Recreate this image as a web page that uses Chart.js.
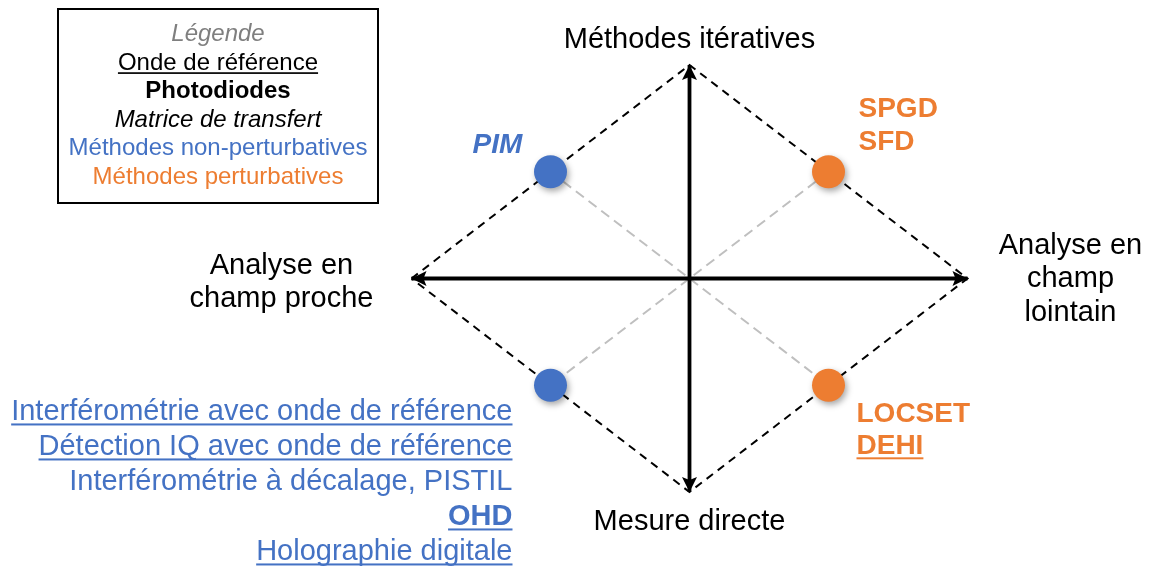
<!DOCTYPE html>
<html><head><meta charset="utf-8">
<script src="https://cdn.jsdelivr.net/npm/chart.js@4/dist/chart.umd.min.js"></script>
<style>html,body{margin:0;padding:0;background:#fff;}#wrap{width:1152px;height:568px;}</style>
</head><body><div id="wrap"><canvas id="c" width="1152" height="568"></canvas></div>
<script>
// ---- data ----
const methodGroups = ['PIM', 'SPGD / SFD', 'LOCSET / DEHI', 'Interférométrie / IQ / PISTIL / OHD / Holographie'];
const methodX = [-0.5, 0.5, 0.5, -0.5];
const methodY = [0.5, 0.5, -0.5, -0.5];
const methodFamily = ['non', 'pert', 'pert', 'non'];
const diamondX = [-1, 0, 1, 0, -1];
const diamondY = [0, 1, 0, -1, 0];
const axisEnds = [-1, 1];
const axisTop = ['Méthodes itératives'];
const axisBottom = ['Mesure directe'];
const axisLeft = ['Analyse en', 'champ proche'];
const axisRight = ['Analyse en', 'champ', 'lointain'];
const legendItems = ['Légende', 'Onde de référence', 'Photodiodes', 'Matrice de transfert', 'Méthodes non-perturbatives', 'Méthodes perturbatives'];
const topLeftMethods = ['PIM'];
const topLeftRef = [false], topLeftPhoto = [true], topLeftMatrix = [true];
const topRightMethods = ['SPGD', 'SFD'];
const topRightRef = [false, false], topRightPhoto = [true, true], topRightMatrix = [false, false];
const bottomRightMethods = ['LOCSET', 'DEHI'];
const bottomRightRef = [false, true], bottomRightPhoto = [true, true], bottomRightMatrix = [false, false];
const bottomLeftMethods = ['Interférométrie avec onde de référence', 'Détection IQ avec onde de référence', 'Interférométrie à décalage, PISTIL', 'OHD', 'Holographie digitale'];
const bottomLeftRef = [true, true, false, true, true], bottomLeftPhoto = [false, false, false, true, false], bottomLeftMatrix = [false, false, false, false, false];

// ---- styles ----
const BLUE = '#4472C4', ORANGE = '#ED7D31';
const familyColor = { non: BLUE, pert: ORANGE };
const FONT = '"Liberation Sans", Arial, sans-serif';

const pts = methodX.map((x, i) => ({ x, y: methodY[i] }));
const diamond = diamondX.map((x, i) => ({ x, y: diamondY[i] }));
const hAxis = axisEnds.map(v => ({ x: v, y: 0 }));
const vAxis = axisEnds.map(v => ({ x: 0, y: v }));

function drawText(ctx, text, x, y, o) {
  ctx.save();
  ctx.font = (o.italic ? 'italic ' : '') + (o.bold ? 'bold ' : '') + o.size + 'px ' + FONT;
  ctx.fillStyle = o.color;
  ctx.textAlign = o.align || 'left';
  ctx.textBaseline = 'alphabetic';
  ctx.fillText(text, x, y);
  if (o.underline) {
    const w = ctx.measureText(text).width;
    let x0 = x;
    if (ctx.textAlign === 'center') x0 = x - w / 2;
    else if (ctx.textAlign === 'right') x0 = x - w;
    ctx.fillRect(x0, y + o.size * 0.11, w, Math.max(1.5, o.size * 0.07));
  }
  ctx.restore();
}

function arrowHead(ctx, tx, ty, dx, dy) {
  const L = 15, W = 7.5, N = 3;
  const px = -dy, py = dx;
  ctx.beginPath();
  ctx.moveTo(tx, ty);
  ctx.lineTo(tx - dx * L + px * W, ty - dy * L + py * W);
  ctx.lineTo(tx - dx * (L - N), ty - dy * (L - N));
  ctx.lineTo(tx - dx * L - px * W, ty - dy * L - py * W);
  ctx.closePath();
  ctx.fillStyle = '#000';
  ctx.fill();
}

const decor = {
  id: 'decor',
  beforeDatasetDraw(chart, args) {
    const ds = chart.data.datasets[args.index];
    if (ds.id === 'points') {
      const ctx = chart.ctx;
      ctx.save();
      ctx.shadowColor = 'rgba(0,0,0,0.35)';
      ctx.shadowBlur = 6;
      ctx.shadowOffsetX = 2;
      ctx.shadowOffsetY = 3;
    }
  },
  afterDatasetDraw(chart, args) {
    const ds = chart.data.datasets[args.index];
    const ctx = chart.ctx;
    const sx = chart.scales.x, sy = chart.scales.y;
    if (ds.id === 'points') ctx.restore();
    if (ds.id === 'haxis') {
      const y = sy.getPixelForValue(0);
      arrowHead(ctx, sx.getPixelForValue(axisEnds[0]), y, -1, 0);
      arrowHead(ctx, sx.getPixelForValue(axisEnds[1]), y, 1, 0);
    }
    if (ds.id === 'vaxis') {
      const x = sx.getPixelForValue(0);
      arrowHead(ctx, x, sy.getPixelForValue(axisEnds[0]), 0, 1);
      arrowHead(ctx, x, sy.getPixelForValue(axisEnds[1]), 0, -1);
    }
  },
  afterDraw(chart) {
    const ctx = chart.ctx;
    const sx = chart.scales.x, sy = chart.scales.y;
    const cx = sx.getPixelForValue(0), cy = sy.getPixelForValue(0);
    const L = sx.getPixelForValue(-1), R = sx.getPixelForValue(1);
    const T = sy.getPixelForValue(1), B = sy.getPixelForValue(-1);
    const big = 29;
    drawText(ctx, axisTop[0], cx, T - 17, { size: big, color: '#000', align: 'center' });
    drawText(ctx, axisBottom[0], cx, B + 38, { size: big, color: '#000', align: 'center' });
    axisLeft.forEach((t, i) => drawText(ctx, t, L - 130, cy - 5 + i * 33, { size: big, color: '#000', align: 'center' }));
    axisRight.forEach((t, i) => drawText(ctx, t, R + 103, cy - 25 + i * 33.5, { size: big, color: '#000', align: 'center' }));
    const p = i => ({ x: sx.getPixelForValue(methodX[i]), y: sy.getPixelForValue(methodY[i]) });
    const c0 = familyColor[methodFamily[0]], c1 = familyColor[methodFamily[1]], c2 = familyColor[methodFamily[2]], c3 = familyColor[methodFamily[3]];
    let q = p(0);
    topLeftMethods.forEach((t, i) => drawText(ctx, t, q.x - 78, q.y - 19 + i * 33, { size: 28, color: c0, bold: topLeftPhoto[i], italic: topLeftMatrix[i], underline: topLeftRef[i] }));
    q = p(1);
    topRightMethods.forEach((t, i) => drawText(ctx, t, q.x + 30, q.y - 55 + i * 33, { size: 28, color: c1, bold: topRightPhoto[i], italic: topRightMatrix[i], underline: topRightRef[i] }));
    q = p(2);
    bottomRightMethods.forEach((t, i) => drawText(ctx, t, q.x + 28, q.y + 37 + i * 32, { size: 28, color: c2, bold: bottomRightPhoto[i], italic: bottomRightMatrix[i], underline: bottomRightRef[i] }));
    q = p(3);
    bottomLeftMethods.forEach((t, i) => drawText(ctx, t, q.x - 38, q.y + 35 + i * 35, { size: 29, color: c3, bold: bottomLeftPhoto[i], italic: bottomLeftMatrix[i], underline: bottomLeftRef[i], align: 'right' }));
    ctx.save();
    ctx.strokeStyle = '#000';
    ctx.lineWidth = 2;
    ctx.strokeRect(58, 9, 320, 194);
    ctx.restore();
    const legStyles = [
      { color: '#7F7F7F', italic: true },
      { color: '#000', underline: true },
      { color: '#000', bold: true },
      { color: '#000', italic: true },
      { color: BLUE },
      { color: ORANGE }
    ];
    legendItems.forEach((t, i) => drawText(ctx, t, 218, 41 + i * 28.6, Object.assign({ size: 24, align: 'center' }, legStyles[i])));
  }
};

new Chart(document.getElementById('c'), {
  type: 'scatter',
  data: {
    datasets: [
      { id: 'points', data: pts, backgroundColor: methodFamily.map(f => familyColor[f]), borderWidth: 0, pointRadius: 16.5, pointHoverRadius: 16.5, order: 0 },
      { id: 'haxis', data: hAxis, showLine: true, borderColor: '#000', borderWidth: 3.8, pointRadius: 0, order: 1 },
      { id: 'vaxis', data: vAxis, showLine: true, borderColor: '#000', borderWidth: 3.8, pointRadius: 0, order: 1 },
      { id: 'diamond', data: diamond, showLine: true, borderColor: '#000', borderWidth: 2, borderDash: [8, 6], pointRadius: 0, order: 2 },
      { id: 'diag1', data: [pts[0], pts[2]], showLine: true, borderColor: '#BFBFBF', borderWidth: 2, borderDash: [10, 6], pointRadius: 0, order: 3 },
      { id: 'diag2', data: [pts[1], pts[3]], showLine: true, borderColor: '#BFBFBF', borderWidth: 2, borderDash: [10, 6], pointRadius: 0, order: 3 }
    ]
  },
  options: {
    responsive: false,
    animation: false,
    events: [],
    layout: { padding: 0, autoPadding: false },
    plugins: { legend: { display: false }, tooltip: { enabled: false } },
    scales: {
      x: { type: 'linear', display: false, min: -689.5 / 278, max: (1152 - 689.5) / 278 },
      y: { type: 'linear', display: false, min: -(568 - 278.5) / 213.5, max: 278.5 / 213.5 }
    }
  },
  plugins: [decor]
});
</script>
</body></html>
